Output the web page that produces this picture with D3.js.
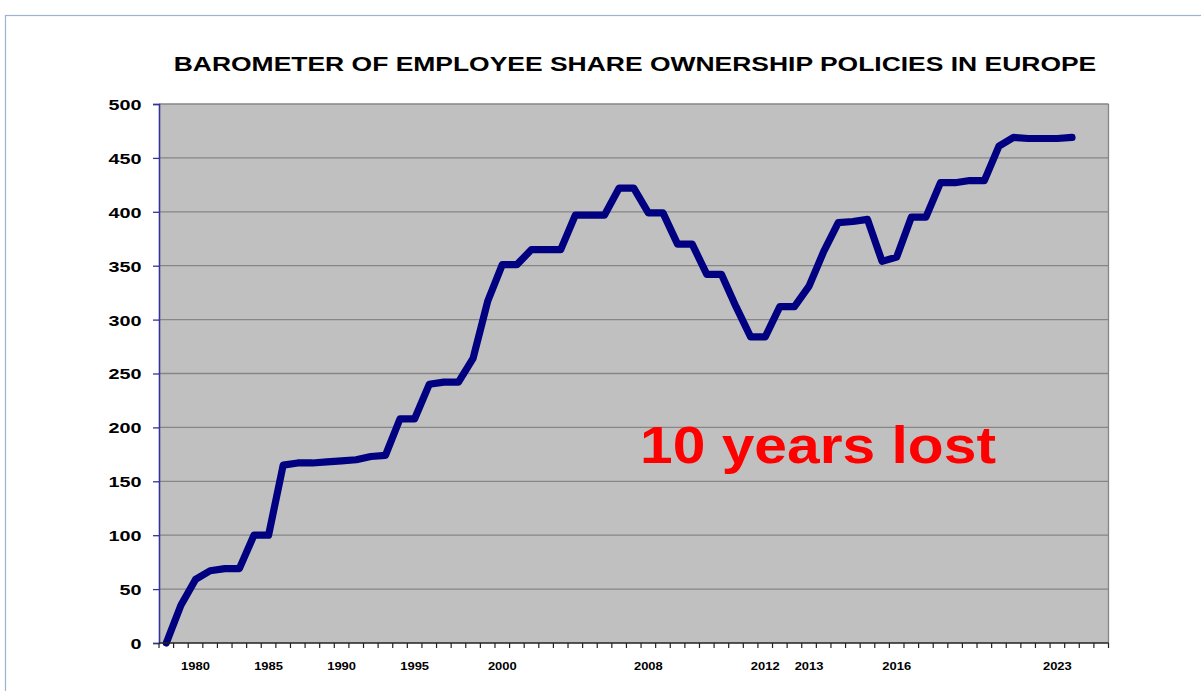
<!DOCTYPE html>
<html>
<head>
<meta charset="utf-8">
<script src="https://cdn.jsdelivr.net/npm/d3@7"></script>
<style>
  html, body { margin: 0; padding: 0; background: #ffffff; }
  svg { display: block; }
  text { font-family: "Liberation Sans", Arial, sans-serif; font-weight: bold; }
</style>
</head>
<body>
<svg id="chart" width="1201" height="691"></svg>
<script>
// ---- data ----
const title = "BAROMETER OF EMPLOYEE SHARE OWNERSHIP POLICIES IN EUROPE";
const annotation = "10 years lost";
// 65 category slots on the x axis; only some carry a label
const categoryLabels = [
  "", "", "1980", "", "", "", "", "1985", "", "", "",
  "", "1990", "", "", "", "", "1995", "", "", "",
  "", "", "2000", "", "", "", "", "", "", "",
  "", "", "2008", "", "", "", "", "", "", "",
  "2012", "", "", "2013", "", "", "", "", "", "2016",
  "", "", "", "", "", "", "", "", "", "",
  "2023", "", "", ""
];
const barometerValues = [
  0, 35, 59, 67, 69, 69, 100, 100, 165, 167,
  167, 168, 169, 170, 173, 174, 208, 208, 240, 242,
  242, 264, 317, 351, 351, 365, 365, 365, 397, 397,
  397, 422, 422, 399, 399, 370, 370, 342, 342, 312,
  284, 284, 312, 312, 331, 363, 390, 391, 393, 354,
  358, 395, 395, 427, 427, 429, 429, 461, 469, 468,
  468, 468, 469
];
const yTicks = [0, 50, 100, 150, 200, 250, 300, 350, 400, 450, 500];

// ---- layout ----
const W = 1201, H = 691;
const plot = { left: 159, right: 1108.5, top: 104, bottom: 643 };
const svg = d3.select("#chart");

// outer frame
svg.append("rect")
  .attr("x", 5.5).attr("y", 15.5)
  .attr("width", W + 20).attr("height", H)
  .attr("fill", "#ffffff")
  .attr("stroke", "#9db3d6").attr("stroke-width", 1.2);

// title
svg.append("text")
  .attr("transform", `translate(635,71) scale(1.31,1)`)
  .attr("text-anchor", "middle")
  .attr("font-size", 20.2)
  .attr("fill", "#000")
  .text(title);

// scales
const x = d3.scaleBand()
  .domain(d3.range(categoryLabels.length))
  .range([plot.left, plot.right])
  .paddingInner(0).paddingOuter(0);
const y = d3.scaleLinear().domain([0, 500]).range([plot.bottom, plot.top]);

// plot background
svg.append("rect")
  .attr("x", plot.left).attr("y", plot.top)
  .attr("width", plot.right - plot.left).attr("height", plot.bottom - plot.top)
  .attr("fill", "#c0c0c0");

// gridlines
svg.append("g").selectAll("line")
  .data(yTicks.filter(d => d > 0))
  .join("line")
  .attr("x1", plot.left).attr("x2", plot.right)
  .attr("y1", d => y(d)).attr("y2", d => y(d))
  .attr("stroke", "#868686").attr("stroke-width", 1.3);

// plot border right
svg.append("line")
  .attr("x1", plot.right).attr("x2", plot.right)
  .attr("y1", plot.top).attr("y2", plot.bottom)
  .attr("stroke", "#868686").attr("stroke-width", 1.3);

// line
const line = d3.line()
  .x((d, i) => x(i) + x.bandwidth() / 2)
  .y(d => y(d));
svg.append("path")
  .datum(barometerValues)
  .attr("d", line)
  .attr("fill", "none")
  .attr("stroke", "#000080")
  .attr("stroke-width", 7.2)
  .attr("stroke-linejoin", "round")
  .attr("stroke-linecap", "round");

// y axis
const sy = 1.32;
const yAxis = d3.axisLeft(y).tickValues(yTicks).tickSize(6).tickFormat(d3.format("d"));
const gy = svg.append("g").attr("transform", `translate(${plot.left},0)`).call(yAxis);
gy.select(".domain").attr("stroke", "#333399").attr("stroke-width", 1.6);
gy.selectAll(".tick line").attr("stroke", "#333399").attr("stroke-width", 1.3);
gy.selectAll(".tick text")
  .attr("x", -17.5 / sy)
  .attr("dy", "0.36em")
  .attr("transform", `scale(${sy},1)`)
  .attr("font-size", 15)
  .attr("font-family", "Liberation Sans, Arial, sans-serif")
  .attr("font-weight", "bold")
  .attr("fill", "#000");

// x axis: ticks between categories
const boundaries = d3.range(categoryLabels.length + 1);
const gxTicks = svg.append("g");
gxTicks.append("line")
  .attr("x1", plot.left).attr("x2", plot.right)
  .attr("y1", plot.bottom).attr("y2", plot.bottom)
  .attr("stroke", "#222").attr("stroke-width", 1.5);
gxTicks.selectAll("line.tk")
  .data(boundaries)
  .join("line")
  .attr("class", "tk")
  .attr("x1", d => d < categoryLabels.length ? x(d) : plot.right)
  .attr("x2", d => d < categoryLabels.length ? x(d) : plot.right)
  .attr("y1", plot.bottom).attr("y2", plot.bottom + 5)
  .attr("stroke", "#222").attr("stroke-width", 1.2);

const sx = 1.2;
const xAxis = d3.axisBottom(x).tickSize(0).tickFormat(i => categoryLabels[i]);
const gx = svg.append("g").attr("transform", `translate(0,${plot.bottom})`).call(xAxis);
gx.select(".domain").remove();
gx.selectAll(".tick")
  .filter(i => categoryLabels[i] === "").remove();
gx.selectAll(".tick text")
  .attr("y", 27)
  .attr("dy", 0)
  .attr("transform", `scale(${sx},1)`)
  .attr("font-size", 10.8)
  .attr("font-family", "Liberation Sans, Arial, sans-serif")
  .attr("font-weight", "bold")
  .attr("fill", "#000");

// annotation
svg.append("text")
  .attr("transform", `translate(640,463) scale(1.13,1)`)
  .attr("font-size", 52)
  .attr("fill", "#ff0000")
  .text(annotation);
</script>
</body>
</html>
